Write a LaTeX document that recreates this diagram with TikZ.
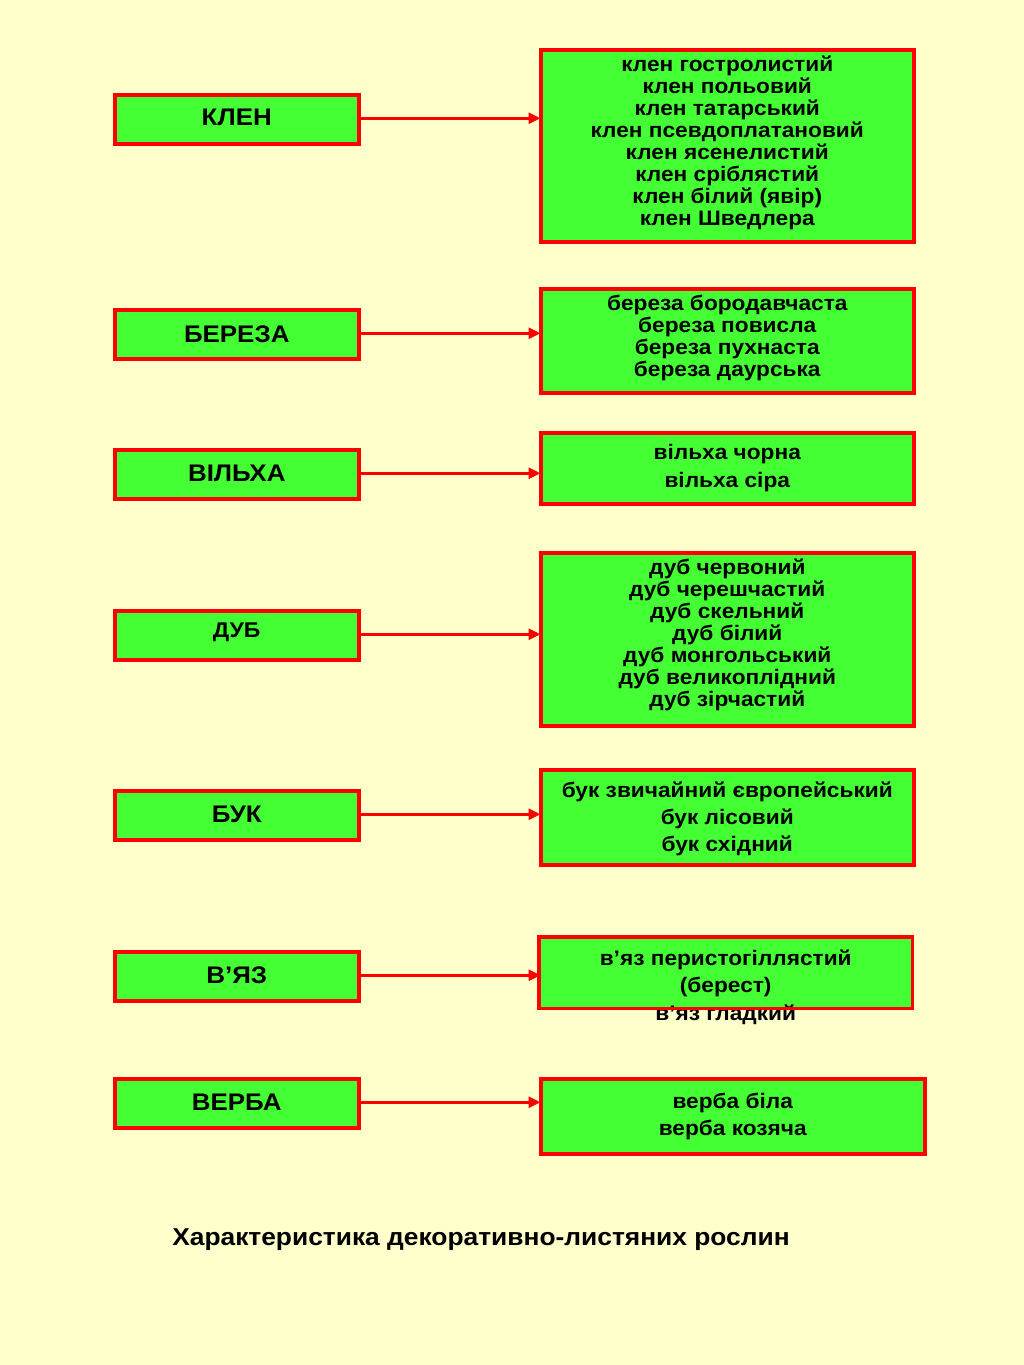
\documentclass[tikz,border=0pt]{standalone}
\usepackage{fontspec}
\setmainfont{Liberation Sans}[FakeStretch=1.08]
\usetikzlibrary{arrows.meta}
\definecolor{bgyellow}{HTML}{FFFFCC}
\definecolor{boxgreen}{HTML}{44FF33}
\definecolor{boxred}{HTML}{FF0000}
\tikzset{
  leftbox/.style={draw=boxred, line width=3.5pt, fill=boxgreen, minimum width=244pt, minimum height=49pt, inner sep=0pt, anchor=north west},
  ltext/.style={font=\fontsize{#1}{#1}\selectfont\bfseries, inner sep=0pt},
  rightbox/.style={draw=boxred, line width=3.5pt, fill=boxgreen, inner sep=0pt, anchor=north west},
  rightfill/.style={fill=boxgreen, inner sep=0pt, anchor=north west},
  rtext/.style={font=\fontsize{21}{#1}\selectfont\bfseries, align=center, anchor=north, inner sep=0pt},
  conn/.style={draw=boxred, line width=3pt, -{Triangle[length=12pt,width=11pt]}},
}
\begin{document}
\begin{tikzpicture}[x=1pt,y=-1pt]
\fill[bgyellow] (0,0) rectangle (1024,1365);
\useasboundingbox (0,0) rectangle (1024,1365);

% left boxes
\node[leftbox] (l1) at (113,93) {};
\node[leftbox] (l2) at (113,308) {};
\node[leftbox] (l3) at (113,448) {};
\node[leftbox] (l4) at (113,609) {};
\node[leftbox] (l5) at (113,789) {};
\node[leftbox] (l6) at (113,950) {};
\node[leftbox] (l7) at (113,1077) {};
\node[ltext=24] at ([yshift=1.5pt]l1.center) {КЛЕН};
\node[ltext=24] at ([yshift=0.5pt]l2.center) {БЕРЕЗА};
\node[ltext=24] at ([yshift=1pt]l3.center) {ВІЛЬХА};
\node[ltext=21.3] at ([yshift=3pt]l4.center) {ДУБ};
\node[ltext=24] at ([yshift=1pt]l5.center) {БУК};
\node[ltext=24] at ([yshift=1pt]l6.center) {В’ЯЗ};
\node[ltext=24] at ([yshift=1pt]l7.center) {ВЕРБА};

% right boxes
\node[rightbox, minimum width=373pt, minimum height=192pt] (r1) at (539,48) {};
\node[rtext=22] (t1) at ([yshift=-7.5pt]r1.north) {клен гостролистий\\клен польовий\\клен татарський\\клен псевдоплатановий\\клен ясенелистий\\клен сріблястий\\клен білий (явір)\\клен Шведлера};

\node[rightbox, minimum width=373pt, minimum height=104pt] (r2) at (539,287) {};
\node[rtext=22] (t2) at ([yshift=-7.5pt]r2.north) {береза бородавчаста\\береза повисла\\береза пухнаста\\береза даурська};

\node[rightbox, minimum width=373pt, minimum height=71pt] (r3) at (539,431) {};
\node[rtext=28] (t3) at ([yshift=-13.5pt]r3.north) {вільха чорна\\вільха сіра};

\node[rightbox, minimum width=373pt, minimum height=173pt] (r4) at (539,551) {};
\node[rtext=22] (t4) at ([yshift=-8pt]r4.north) {дуб червоний\\дуб черешчастий\\дуб скельний\\дуб білий\\дуб монгольський\\дуб великоплідний\\дуб зірчастий};

\node[rightbox, minimum width=373pt, minimum height=95pt] (r5) at (539,768) {};
\node[rtext=27] (t5) at ([yshift=-13.5pt]r5.north) {бук звичайний європейський\\бук лісовий\\бук східний};

\node[rightfill, minimum width=373pt, minimum height=71pt] (r6) at (539,937) {};
\node[rtext=27.5] (t6) at ([yshift=-12.5pt]r6.north) {в’яз перистогіллястий\\(берест)\\в’яз гладкий};
\draw[boxred, line width=3.5pt] (r6.north west) rectangle (r6.south east);

\node[rightbox, minimum width=384pt, minimum height=75pt] (r7) at (539,1077) {};
\node[rtext=27] (t7) at ([yshift=-15.5pt]r7.north) {верба біла\\верба козяча};

% connectors
\foreach \i in {1,...,7} {
  \draw[conn] ([xshift=-4pt,yshift=1pt]l\i.east) -- ([xshift=1.5pt,yshift=1pt]l\i.east -| r\i.west);
}

\node[font=\fontsize{24.4}{26}\selectfont\bfseries, inner sep=0pt] (title) at (481,1239.5) {Характеристика декоративно-листяних рослин};
\end{tikzpicture}
\end{document}
